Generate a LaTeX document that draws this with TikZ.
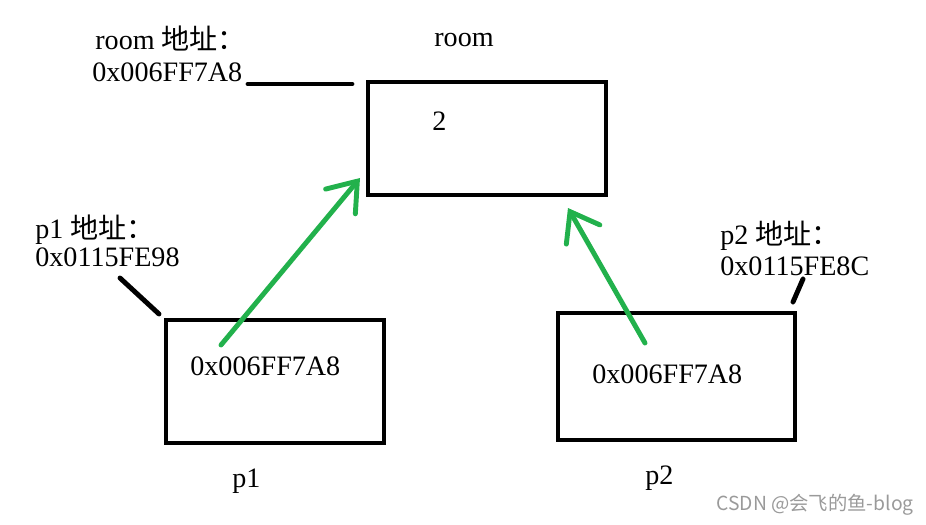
\documentclass[tikz,border=0pt]{standalone}
\usepackage{fontspec}
\setmainfont{Liberation Serif}
\newfontfamily\cjk{Noto Sans CJK SC}
\usetikzlibrary{arrows.meta, positioning}
\definecolor{ptrgreen}{HTML}{22B14C}
\definecolor{markgray}{HTML}{9A9A9A}
\tikzset{
    membox/.style={
        draw=black, line width=2.3pt, fill=white,
        inner sep=0pt, outer sep=0pt,
    },
    lbl/.style={
        font=\fontsize{16}{18}\selectfont, anchor=west,
        inner sep=0pt, text depth=0pt,
    },
    lead/.style={
        line width=2.8pt, line cap=round, black,
    },
    ptr/.style={
        -{Straight Barb[length=15pt, width=22pt, line cap=round]},
        line width=2.8pt, line cap=round, ptrgreen,
    },
}
\begin{document}
\begin{tikzpicture}[x=0.02cm, y=-0.02cm]
\useasboundingbox (0,0) rectangle (926,524);

% boxes
\node[membox, minimum width=4.76cm, minimum height=2.26cm] (room) at (487,138.5) {};
\node[membox, minimum width=4.36cm, minimum height=2.46cm] (p1) at (275,381.5) {};
\node[membox, minimum width=4.74cm, minimum height=2.54cm] (p2) at (676.5,376.5) {};

% labels
\node[lbl] (roomaddr) at (95,38) {room {\cjk 地址：}};
\node[lbl] (roomaddrval) at (92,72) {0x006FF7A8};
\node[lbl] (roomname) at (434,40) {room};
\node[lbl] (roomval) at (432,121) {2};

\node[lbl] (p1addr) at (35,227) {p1 {\cjk 地址：}};
\node[lbl] (p1addrval) at (35,257) {0x0115FE98};
\node[lbl] (p1val) at (190,366) {0x006FF7A8};
\node[lbl] (p1name) at (232,478) {p1};

\node[lbl] (p2addr) at (720,233) {p2 {\cjk 地址：}};
\node[lbl] (p2addrval) at (720,266) {0x0115FE8C};
\node[lbl] (p2val) at (592,374) {0x006FF7A8};
\node[lbl] (p2name) at (645,475) {p2};

% leaders from address to box
\coordinate (rl) at (248,84);
\coordinate (rr) at (352,84);
\draw[lead] (rl) -- (rr);
\coordinate (l1a) at (120,278);
\coordinate (l1b) at (159,314);
\draw[lead] (l1a) -- (l1b);
\coordinate (l2a) at (803,279);
\coordinate (l2b) at (793,302);
\draw[lead] (l2a) -- (l2b);

% pointers
\coordinate (a1s) at (221,345);
\coordinate (a1e) at (360,178);
\draw[ptr] (a1s) -- (a1e);
\coordinate (a2s) at (645,343);
\coordinate (a2e) at (568,208);
\draw[ptr] (a2s) -- (a2e);

% watermark
\node[anchor=west, inner sep=0pt, font=\cjk\fontsize{11}{13}\selectfont, text=markgray]
    (mark) at (716,505) {CSDN @会飞的鱼-blog};

\end{tikzpicture}
\end{document}
